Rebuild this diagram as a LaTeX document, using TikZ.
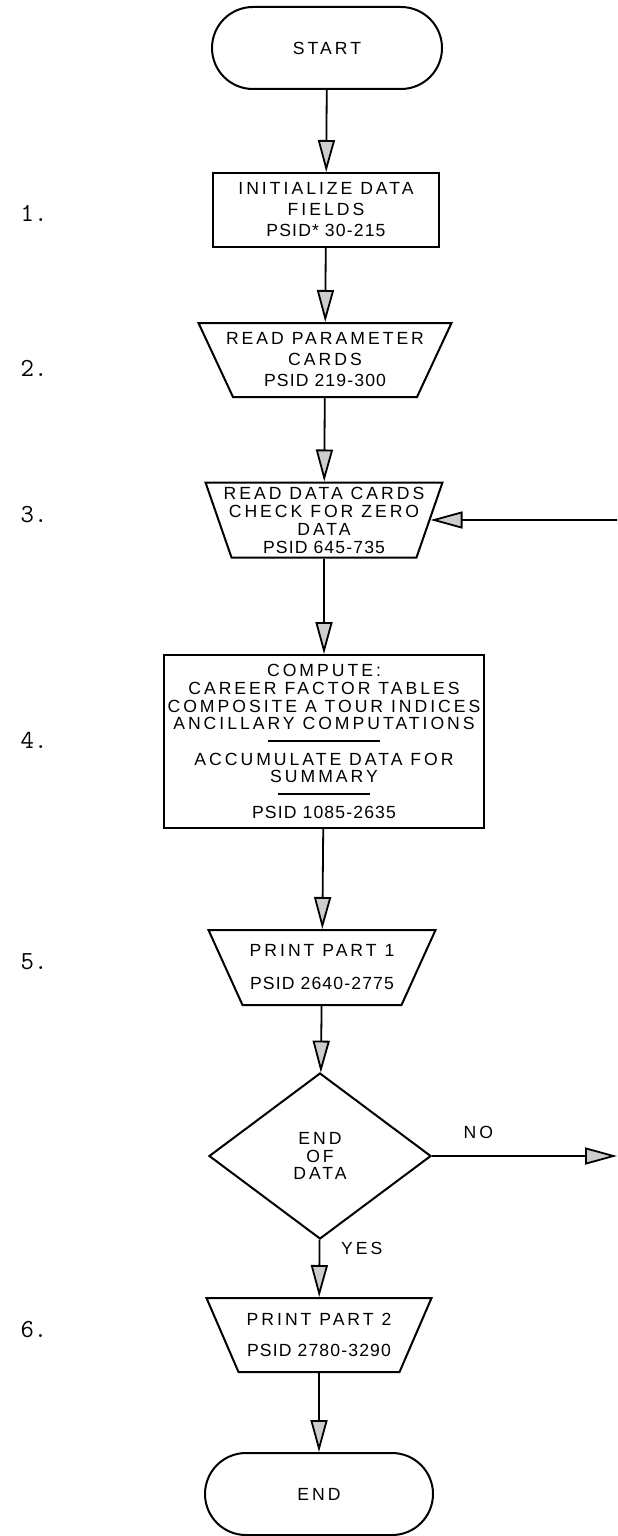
\documentclass[tikz,border=0pt]{standalone}
\usepackage{fontspec}
\usepackage{tikz}
\usetikzlibrary{arrows.meta,positioning,shapes.geometric}
\newfontfamily\chartfont[LetterSpace=17]{Liberation Sans}
\newfontfamily\psidfont[LetterSpace=6.5]{Liberation Sans}
\definecolor{tipc}{RGB}{205,205,205}
\newcommand{\manbox}[2]{\makebox[#1]{\rule{0pt}{#2}}}

\begin{document}
\begin{tikzpicture}[x=0.5pt,y=-0.5pt,line width=1pt,>={Triangle[length=16pt,width=8.5pt,fill=tipc]},
  font=\chartfont\fontsize{8.8}{10.5}\selectfont]
\useasboundingbox (0,0) rectangle (617,1536);
\tikzstyle{term}=[draw,rounded corners=20.5pt,minimum width=115pt,minimum height=41pt]
\tikzstyle{proc}=[draw,align=center,inner sep=0pt]
\tikzstyle{manual}=[draw,trapezium,shape border rotate=180,inner sep=0pt]
\tikzstyle{dec}=[draw,diamond,align=center,inner sep=0pt,minimum width=111pt,minimum height=83pt]
\tikzstyle{txt}=[align=center]
\tikzstyle{num}=[font=\ttfamily\fontsize{13}{13}\selectfont]
\tikzstyle{flow}=[->,line width=0.9pt]
% chart
\node[term] (start) at (327,48) {START};
\node[proc,minimum width=113pt,minimum height=37pt] (init) at (326,210) {INITIALIZE DATA\\FIELDS\\{\psidfont PSID* 30-215}};
\node[manual,trapezium angle=65,
  label={[txt]center:READ PARAMETER\\CARDS\\{\psidfont PSID 219-300}}] (parm) at (325,360) {\manbox{92pt}{37pt}};
\node[manual,trapezium angle=70.9,
  label={[txt,font=\chartfont\fontsize{8.8}{9}\selectfont]center:READ DATA CARDS\\CHECK FOR ZERO\\DATA\\{\psidfont PSID 645-735}}] (data) at (324,520) {\manbox{92.5pt}{37.5pt}};
\node[proc,minimum width=160pt,minimum height=86.5pt,font=\chartfont\fontsize{8.8}{8.85}\selectfont] (comp) at (324,741.5)
  {COMPUTE:\\CAREER FACTOR TABLES\\COMPOSITE A TOUR INDICES\\ANCILLARY COMPUTATIONS\\\rule[3pt]{56pt}{0.8pt}\\ACCUMULATE DATA FOR\\SUMMARY\\\rule[3pt]{46pt}{0.8pt}\\{\psidfont PSID 1085-2635}};
\node[manual,trapezium angle=65.6,
  label={[txt]center:PRINT PART 1\\[6pt]{\psidfont PSID 2640-2775}}] (prt1) at (322,967.5) {\manbox{79.5pt}{37.5pt}};
\node[dec,font=\chartfont\fontsize{8.8}{8.6}\selectfont] (eod) at (320,1156) {END\\OF\\DATA};
\node[manual,trapezium angle=66.6,
  label={[txt]center:PRINT PART 2\\[5pt]{\psidfont PSID 2780-3290}}] (prt2) at (319,1335) {\manbox{80.5pt}{37pt}};
\node[term,minimum width=114pt] (end) at (319,1494) {END};
\coordinate (loopin) at (617,520);
\coordinate (loopout) at (617,1156);
% connectors
\draw[flow] (start) -- (init);
\draw[flow] (init) -- (parm);
\draw[flow] (parm) -- (data);
\draw[flow] (data) -- (comp);
\draw[flow] (comp) -- (prt1);
\draw[flow] (prt1) -- (eod);
\draw[flow] (eod) -- node[pos=0.15,right=7pt]{YES} (prt2);
\draw[flow] (prt2) -- (end);
\draw[flow] (eod) -- node[pos=0.25,above=5pt]{NO} (loopout);
\draw[flow] (loopin) -- (data);
% step numbers
\foreach \i/\y in {1/213,2/368,3/515,4/740,5/962,6/1330}
  \node[num] (lab\i) at (34,\y) {\i.};
\end{tikzpicture}
\end{document}
